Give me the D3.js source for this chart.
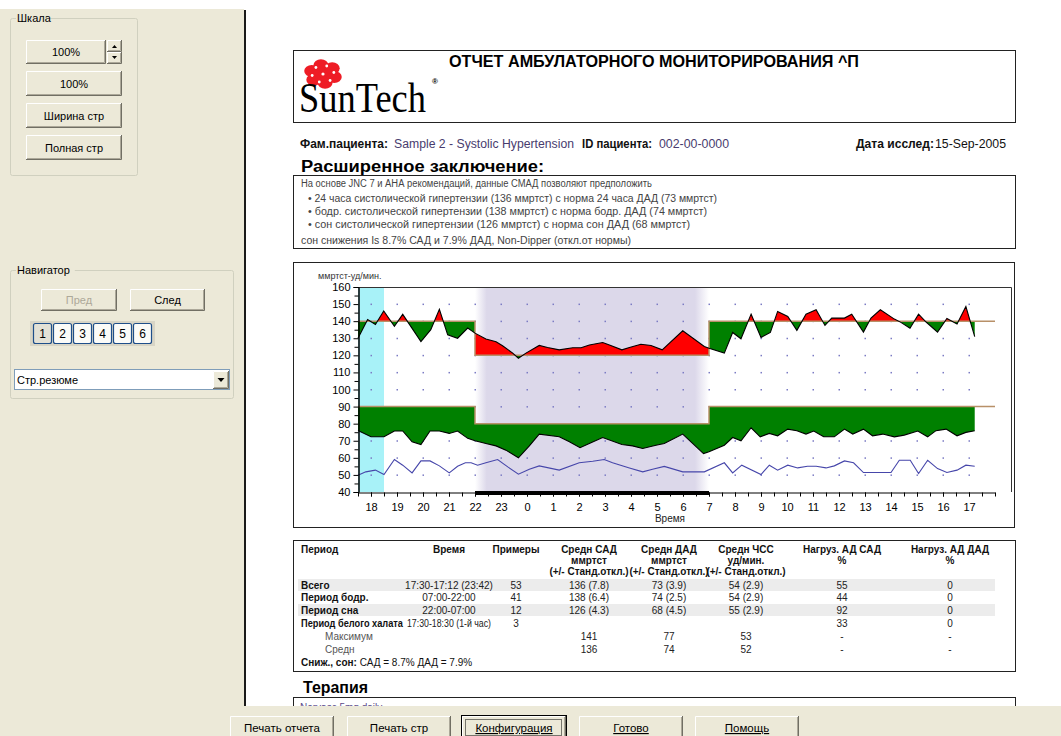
<!DOCTYPE html>
<html>
<head>
<meta charset="utf-8">
<script src="https://cdn.jsdelivr.net/npm/d3@7"></script>
<style>
body { margin: 0; background: #fff; overflow: hidden; }
text { font-family: "Liberation Sans", Arial, sans-serif; }
</style>
</head>
<body>
<script>
// readings: [hour, value], hours run on past 24 for the next morning
var sysData = [[17.5,130],[17.87,141],[18.17,138],[18.49,146],[18.9,137],[19.22,144],[19.92,128],[20.3,135],[20.63,147],[20.95,132],[21.33,130],[21.72,136],[22.0,133],[22.42,129.5],[22.81,128],[23.06,125.6],[23.45,121.3],[23.67,118.3],[23.96,121.3],[24.47,125.8],[24.79,124.6],[25.24,123.2],[25.76,124.4],[26.08,124.4],[26.4,126],[26.91,127.5],[27.17,126],[27.65,123.2],[27.94,124.6],[28.38,126.5],[28.77,125.8],[29.2,123.2],[29.99,134.4],[30.82,125.2],[31.0,124.2],[31.59,121.3],[31.91,133.4],[32.23,129.7],[32.62,144.1],[33.0,130.5],[33.36,133.4],[33.64,145.7],[34.03,142.8],[34.38,134.6],[34.73,144.1],[35.12,146.7],[35.46,137.5],[35.72,141.8],[36.21,141.8],[36.49,144.1],[36.94,133.6],[37.23,141.8],[37.59,146.7],[38.13,141.2],[38.38,139.3],[38.73,135.9],[39.06,144.1],[39.35,139.5],[39.79,133.6],[40.15,141.6],[40.54,138.3],[40.88,148.6],[41.22,131]];
var diaData = [[17.5,76],[18.0,72.3],[18.5,72.3],[18.9,75.7],[19.22,75.7],[19.58,69.4],[19.92,67.8],[20.27,75.7],[20.63,75.7],[21.01,74.3],[21.33,75.7],[21.72,71.4],[22.0,70],[22.42,68.4],[22.81,67],[23.19,64.5],[23.67,60],[24.09,67],[24.47,73.9],[25.24,72.3],[25.63,69.4],[26.04,65.9],[26.46,68.8],[26.91,71.9],[27.65,67.8],[28.06,67],[28.45,65.5],[28.96,67.4],[29.28,68.4],[29.99,73.9],[30.79,62.5],[31.0,63.5],[31.59,67.4],[31.91,71.9],[32.23,70],[32.62,77.6],[32.97,72.3],[33.32,74.3],[33.64,72.9],[34.03,76.8],[34.38,75.9],[34.73,73.9],[35.03,75.7],[35.41,72.3],[35.82,72.3],[36.21,76.8],[36.53,73.9],[36.94,76.8],[37.29,72.9],[37.68,73.9],[38.13,72.3],[38.51,73.3],[39.03,75.7],[39.41,72.3],[39.73,75.9],[40.12,76.8],[40.54,72.9],[40.88,74.9],[41.22,75.9]];
var hrData = [[17.5,49.8],[17.8,51.8],[18.17,52.8],[18.5,50.2],[18.9,59],[19.22,55.7],[19.58,51.2],[19.92,58.2],[20.27,58.2],[20.63,55.3],[21.01,51.2],[21.33,55.1],[21.63,57.1],[21.85,57.1],[22.1,55.7],[22.42,57.1],[22.87,59],[23.26,54.7],[23.67,50.4],[24.09,53.3],[24.47,55.3],[25.24,52.8],[26.01,57.1],[26.53,58],[26.97,59],[27.29,57.1],[27.94,54.1],[28.45,51.8],[28.83,53.3],[29.28,55],[29.99,51.8],[30.82,51.8],[31.59,57.1],[31.91,51.2],[32.26,55.7],[33.0,50.2],[33.32,55.7],[33.64,52.8],[34.03,55.7],[34.41,54.1],[34.79,55.1],[35.12,55.1],[35.5,54.1],[35.82,55.3],[36.21,58.2],[36.56,57.1],[36.94,51.4],[38.0,51.4],[38.32,58.6],[38.74,58.6],[39.06,50.8],[39.41,58.6],[39.79,53.7],[40.15,51.4],[40.54,52.8],[40.88,55.7],[41.22,55.1]];
var sysLimits = [[17.5,140],[22,120],[31,140],[42,140]];
var diaLimits = [[17.5,90],[22,80],[31,90],[42,90]];
var whiteCoat = [17.5, 18.5];
var sleep = [22, 31];
var yTicks = [40,50,60,70,80,90,100,110,120,130,140,150,160];
var hourTicks = [18,19,20,21,22,23,24,25,26,27,28,29,30,31,32,33,34,35,36,37,38,39,40,41];

var summary = ["На основе JNC 7 и АНА рекомендаций, данные СМАД позволяют предположить",
  "• 24 часа систолической гипертензии (136 ммртст) с норма 24 часа ДАД (73 ммртст)",
  "• бодр. систолической гипертензии (138 ммртст) с норма бодр. ДАД (74 ммртст)",
  "• сон систолической гипертензии (126 ммртст) с норма сон ДАД (68 ммртст)",
  "сон снижения Is 8.7% САД и 7.9% ДАД, Non-Dipper (откл.от нормы)"];
var tableHeads = [["Период"],["Время"],["Примеры"],["Средн САД","ммртст","(+/- Станд.откл.)"],
  ["Средн ДАД","ммртст","(+/- Станд.откл.)"],["Средн ЧСС","уд/мин.","(+/- Станд.откл.)"],
  ["Нагруз. АД САД","%"],["Нагруз. АД ДАД","%"]];
var tableRows = [
  ["Всего","17:30-17:12 (23:42)","53","136 (7.8)","73 (3.9)","54 (2.9)","55","0"],
  ["Период бодр.","07:00-22:00","41","138 (6.4)","74 (2.5)","54 (2.9)","44","0"],
  ["Период сна","22:00-07:00","12","126 (4.3)","68 (4.5)","55 (2.9)","92","0"],
  ["Период белого халата","17:30-18:30 (1-й час)","3","","","","33","0"],
  ["Максимум","","","141","77","53","-","-"],
  ["Средн","","","136","74","52","-","-"]];

var svg = d3.select("body").append("svg").attr("width", 1061).attr("height", 736);
var defs = svg.append("defs");

function txt(g, x, y, s, size, opts) {
  opts = opts || {};
  var t = g.append("text").attr("x", x).attr("y", y).text(s)
    .attr("font-size", size).attr("fill", opts.fill || "#000")
    .attr("font-weight", opts.bold ? "bold" : null)
    .attr("text-anchor", opts.anchor || "start");
  if (opts.len) t.attr("textLength", opts.len).attr("lengthAdjust", "spacingAndGlyphs");
  if (opts.family) t.style("font-family", opts.family);
  return t;
}

function button(g, x, y, w, h, label, opts) {
  opts = opts || {};
  g.append("rect").attr("x", x).attr("y", y).attr("width", w).attr("height", h).attr("fill", "#ece9d8");
  g.append("path").attr("d", "M" + (x+.5) + "," + (y+h-1) + "V" + (y+.5) + "H" + (x+w-1)).attr("stroke", "#fff").attr("fill", "none");
  g.append("path").attr("d", "M" + (x+1) + "," + (y+h-1.5) + "H" + (x+w-1.5) + "V" + (y+1)).attr("stroke", "#aca899").attr("fill", "none");
  g.append("path").attr("d", "M" + x + "," + (y+h-.5) + "H" + (x+w-.5) + "V" + y).attr("stroke", "#716f64").attr("fill", "none");
  if (opts.focus) {
    g.append("rect").attr("x", x-.5).attr("y", y-.5).attr("width", w+1).attr("height", h+1).attr("fill", "none").attr("stroke", "#000");
    g.append("rect").attr("x", x+3.5).attr("y", y+3.5).attr("width", w-8).attr("height", h-8)
      .attr("fill", "none").attr("stroke", "#000").attr("stroke-dasharray", "1,1");
  }
  if (label) {
    var t = txt(g, x + w/2, y + h/2 + 4, label, opts.size || 11, {anchor: "middle", fill: opts.disabled ? "#aca899" : "#000"});
    if (opts.under) t.style("text-decoration", "underline");
    return t;
  }
}

function groupBox(g, x, y, w, h, label) {
  g.append("rect").attr("x", x+.5).attr("y", y+.5).attr("width", w).attr("height", h)
    .attr("rx", 2).attr("fill", "none").attr("stroke", "#d0d0bf");
  g.append("rect").attr("x", x+6).attr("y", y-6).attr("width", label.length*6.2+3).attr("height", 12).attr("fill", "#ece9d8");
  txt(g, x+7, y+4, label, 11);
}

// ---------- window frame ----------
var ui = svg.append("g");
ui.append("rect").attr("x", 0).attr("y", 9).attr("width", 244).attr("height", 700).attr("fill", "#ece9d8");
ui.append("rect").attr("x", 244).attr("y", 10).attr("width", 2).attr("height", 696).attr("fill", "#1a1a1a");

groupBox(ui, 10, 18, 127, 157, "Шкала");
button(ui, 26, 40, 80, 24, "100%");
button(ui, 107, 40, 15, 12, "");
button(ui, 107, 52, 15, 12, "");
ui.append("path").attr("d", "M112,48h5l-2.5,-3z").attr("fill", "#000");
ui.append("path").attr("d", "M112,56h5l-2.5,3z").attr("fill", "#000");
button(ui, 26, 71, 96, 25, "100%");
button(ui, 26, 103, 96, 25, "Ширина стр");
button(ui, 26, 135, 96, 25, "Полная стр");

groupBox(ui, 10, 270, 223, 128, "Навигатор");
button(ui, 41, 289, 76, 22, "Пред", {disabled: true});
button(ui, 130, 289, 75, 22, "След");
ui.append("rect").attr("x", 30).attr("y", 321).attr("width", 125).attr("height", 25).attr("fill", "#d8d5c6");
["1","2","3","4","5","6"].forEach(function (p, i) {
  var bx = 33 + i * 20;
  ui.append("rect").attr("x", bx + .5).attr("y", 323.5).attr("width", 18).attr("height", 20).attr("rx", 2)
    .attr("fill", i === 0 ? "#e3e1d6" : "#fbfbf8").attr("stroke", "#1f4f8a").attr("stroke-width", 1.2);
  txt(ui, bx + 9.5, 338, p, 12, {anchor: "middle"});
});
ui.append("rect").attr("x", 14.5).attr("y", 369.5).attr("width", 215).attr("height", 20).attr("fill", "#fff").attr("stroke", "#7f9db9");
button(ui, 213, 371, 16, 18, "");
ui.append("path").attr("d", "M217.5,378h7l-3.5,4z").attr("fill", "#000");
txt(ui, 17, 384, "Стр.резюме", 11);

// ---------- report header ----------
var pg = svg.append("g");
pg.append("rect").attr("x", 293.5).attr("y", 50.5).attr("width", 722).attr("height", 72).attr("fill", "none").attr("stroke", "#222");
txt(pg, 449, 67, "ОТЧЕТ АМБУЛАТОРНОГО МОНИТОРИРОВАНИЯ ^П", 16, {bold: true, len: 410});

// SunTech logo: red splat with white specks
var petals = d3.range(6).map(function (i) { return i * Math.PI / 3 + 0.35; });
var logo = pg.append("g").attr("transform", "translate(323,74)");
logo.append("circle").attr("r", 10).attr("fill", "#ee1c25");
logo.selectAll(".petal").data(petals).enter().append("ellipse")
  .attr("cx", function (a) { return Math.cos(a) * 12; }).attr("cy", function (a) { return Math.sin(a) * 9; })
  .attr("rx", 7.5).attr("ry", 6).attr("fill", "#ee1c25");
logo.selectAll(".speck").data(petals).enter().append("circle")
  .attr("cx", function (a) { return Math.cos(a + 0.52) * 11; }).attr("cy", function (a) { return Math.sin(a + 0.52) * 8.5; })
  .attr("r", 1.4).attr("fill", "#fff");
logo.append("circle").attr("r", 1.6).attr("fill", "#fff");
var brand = pg.append("g").attr("transform", "translate(299,112) scale(1,1.13)");
txt(brand, 0, 0, "SunTech", 37, {len: 127, family: "'Liberation Serif', 'DejaVu Serif', serif"});
txt(pg, 432, 84, "®", 8, {bold: true});

// patient line
txt(pg, 300, 148, "Фам.пациента:", 12, {len: 88, fill: "#111"}).attr("font-weight", 600);
txt(pg, 394, 148, "Sample 2 - Systolic Hypertension", 12, {len: 180, fill: "#483c6e"});
txt(pg, 582, 148, "ID пациента:", 12, {len: 70, fill: "#111"}).attr("font-weight", 600);
txt(pg, 659, 148, "002-00-0000", 12, {len: 70, fill: "#483c6e"});
txt(pg, 856, 148, "Дата исслед:", 12, {len: 78, fill: "#111"}).attr("font-weight", 600);
txt(pg, 935, 148, "15-Sep-2005", 12, {len: 71, fill: "#111"});

// extended summary
txt(pg, 301, 172, "Расширенное заключение:", 16, {bold: true, len: 243});
pg.append("rect").attr("x", 293.5).attr("y", 175.5).attr("width", 722).attr("height", 73).attr("fill", "none").attr("stroke", "#222");
var sumY = [187, 202, 215, 228, 244];
var sumX = [301, 308, 308, 308, 301];
var sumLen = [351, 409, 399, 382, 330];
summary.forEach(function (s, i) { txt(pg, sumX[i], sumY[i], s, 10, {fill: "#444", len: sumLen[i]}); });

// ---------- chart ----------
pg.append("rect").attr("x", 293.5).attr("y", 262.5).attr("width", 721).attr("height", 265).attr("fill", "none").attr("stroke", "#222");
var x = d3.scaleLinear().domain([17.5, 42]).range([358, 995]);
var y = d3.scaleLinear().domain([40, 160]).range([492, 287]);
var plotTop = y(160), plotBot = y(40);
var ch = svg.append("g");

txt(ch, 318, 279, "ммртст-уд/мин.", 9, {fill: "#333"});

var grad = defs.append("linearGradient").attr("id", "sleepGrad").attr("gradientUnits", "userSpaceOnUse")
  .attr("x1", x(sleep[0])).attr("x2", x(sleep[1])).attr("y1", 0).attr("y2", 0);
[[0, 0], [0.05, 1], [0.94, 1], [1, 0]].forEach(function (s) {
  grad.append("stop").attr("offset", s[0]).attr("stop-color", "#dcd8ea").attr("stop-opacity", s[1]);
});
ch.append("rect").attr("x", x(sleep[0])).attr("y", plotTop).attr("width", x(sleep[1]) - x(sleep[0]))
  .attr("height", plotBot - plotTop).attr("fill", "url(#sleepGrad)");
ch.append("rect").attr("x", x(whiteCoat[0])).attr("y", plotTop).attr("width", x(whiteCoat[1]) - x(whiteCoat[0]))
  .attr("height", plotBot - plotTop).attr("fill", "#a8f2f8");

// grid dots
var dotVals = yTicks.filter(function (v) { return v > 40 && v < 160; });
hourTicks.forEach(function (h) {
  ch.selectAll(null).data(dotVals).enter().append("rect")
    .attr("x", x(h) - .5).attr("y", function (v) { return y(v) - .5; })
    .attr("width", 1.5).attr("height", 1.5).attr("fill", "#7b7bc4");
});

// clip regions above / below the limit step lines
function limitClip(id, limits, above) {
  var a = d3.area().curve(d3.curveStepAfter).x(function (d) { return x(d[0]); })
    .y0(above ? plotTop : plotBot).y1(function (d) { return y(d[1]); });
  defs.append("clipPath").attr("id", id).append("path").attr("d", a(limits));
}
limitClip("sysAbove", sysLimits, true);
limitClip("sysBelow", sysLimits, false);
limitClip("diaAbove", diaLimits, true);
limitClip("diaBelow", diaLimits, false);

function loadArea(data, name) {
  var down = d3.area().x(function (d) { return x(d[0]); }).y0(plotBot).y1(function (d) { return y(d[1]); });
  var up = d3.area().x(function (d) { return x(d[0]); }).y0(plotTop).y1(function (d) { return y(d[1]); });
  ch.append("path").attr("d", down(data)).attr("fill", "#ff0000").attr("clip-path", "url(#" + name + "Above)");
  ch.append("path").attr("d", up(data)).attr("fill", "#008000").attr("clip-path", "url(#" + name + "Below)");
}
loadArea(sysData, "sys");
loadArea(diaData, "dia");

var step = d3.line().curve(d3.curveStepAfter).x(function (d) { return x(d[0]); }).y(function (d) { return y(d[1]); });
[sysLimits, diaLimits].forEach(function (l) {
  ch.append("path").attr("d", step(l)).attr("fill", "none").attr("stroke", "#b89068").attr("stroke-width", 1.5);
});

var line = d3.line().x(function (d) { return x(d[0]); }).y(function (d) { return y(d[1]); });
ch.append("path").attr("d", line(sysData)).attr("fill", "none").attr("stroke", "#000").attr("stroke-width", 1.1);
ch.append("path").attr("d", line(diaData)).attr("fill", "none").attr("stroke", "#000").attr("stroke-width", 1.1);
ch.append("path").attr("d", line(hrData)).attr("fill", "none").attr("stroke", "#4646aa").attr("stroke-width", 1.1);

// plot frame
ch.append("path").attr("d", "M" + x.range()[0] + "," + (plotTop + .5) + "H1011.5V" + plotBot)
  .attr("fill", "none").attr("stroke", "#333");

// axes
var yAxis = ch.append("g").attr("transform", "translate(358.5,0)")
  .call(d3.axisLeft(y).tickValues(yTicks).tickSize(5).tickPadding(3));
ch.append("g").attr("transform", "translate(358.5,0)")
  .call(d3.axisLeft(y).tickValues(d3.range(45, 160, 10)).tickSize(4).tickFormat(""));
yAxis.selectAll("text").attr("font-size", 11).style("font-family", "'Liberation Sans', Arial, sans-serif");

var halfHours = d3.range(17.5, 42.01, 0.5);
ch.append("g").attr("transform", "translate(0," + (plotBot + .5) + ")")
  .call(d3.axisBottom(x).tickValues(halfHours).tickSize(4).tickFormat("").tickSizeOuter(0));
var xLab = ch.append("g").attr("transform", "translate(0," + (plotBot + .5) + ")")
  .call(d3.axisBottom(x).tickValues(hourTicks).tickSize(4).tickPadding(7)
    .tickFormat(function (h) { return h % 24; }).tickSizeOuter(0));
xLab.select(".domain").remove();
xLab.selectAll("text").attr("font-size", 11).style("font-family", "'Liberation Sans', Arial, sans-serif");
ch.selectAll(".domain").attr("stroke", "#000");

ch.append("rect").attr("x", x(sleep[0])).attr("y", plotBot - 1).attr("width", x(sleep[1]) - x(sleep[0]))
  .attr("height", 4).attr("fill", "#000");
txt(ch, x(29.5), 522, "Время", 10, {anchor: "middle", fill: "#222"});

// ---------- summary table ----------
var tb = svg.append("g");
tb.append("rect").attr("x", 293.5).attr("y", 540.5).attr("width", 722).attr("height", 131).attr("fill", "none").attr("stroke", "#222");
var colX = [301, 449, 516, 589, 669, 746, 842, 950];
var rowY = [585, 597.5, 610, 623, 636, 649];
[0, 2].forEach(function (r) {
  tb.append("rect").attr("x", 298).attr("y", rowY[r] - 6).attr("width", 697).attr("height", 12).attr("fill", "#ececec");
});
tableHeads.forEach(function (h, c) {
  h.forEach(function (s, k) {
    txt(tb, colX[c], 553 + k * 11, s, 10, {bold: true, anchor: c === 0 ? "start" : "middle", fill: "#111"});
  });
});
tableRows.forEach(function (row, r) {
  row.forEach(function (s, c) {
    if (!s) return;
    var sub = r >= 4;
    if (c === 0) {
      var t = txt(tb, sub ? 325 : 301, rowY[r] + 3.5, s, 10, {bold: !sub, fill: sub ? "#555" : "#111"});
      if (r === 3) t.attr("textLength", 102).attr("lengthAdjust", "spacingAndGlyphs");
    } else {
      var v = txt(tb, colX[c], rowY[r] + 3.5, s, 10, {anchor: "middle", fill: "#222"});
      if (r === 3 && c === 1) v.attr("textLength", 84).attr("lengthAdjust", "spacingAndGlyphs");
    }
  });
});
var dip = txt(tb, 301, 665.5, "", 10, {fill: "#111"});
dip.append("tspan").attr("font-weight", "bold").text("Сниж., сон: ");
dip.append("tspan").text(" САД = 8.7%  ДАД = 7.9%");

// therapy
txt(pg, 303, 693, "Терапия", 16, {bold: true, len: 65});
pg.append("rect").attr("x", 293.5).attr("y", 697.5).attr("width", 722).attr("height", 40).attr("fill", "none").attr("stroke", "#222");
txt(pg, 300, 711, "Norvasc 5mg daily", 10, {fill: "#5a4a8a"});

// ---------- bottom bar ----------
var bb = svg.append("g");
bb.append("rect").attr("x", 0).attr("y", 706).attr("width", 1061).attr("height", 30).attr("fill", "#ece9d8");
var bottomButtons = [["Печать отчета", 230], ["Печать стр", 347], ["Конфигурация", 462], ["Готово", 579], ["Помощь", 695]];
bottomButtons.forEach(function (b, i) {
  button(bb, b[1], 716, 104, 24, b[0], {focus: i === 2, size: 11.5, under: i >= 2});
});
</script>
</body>
</html>
